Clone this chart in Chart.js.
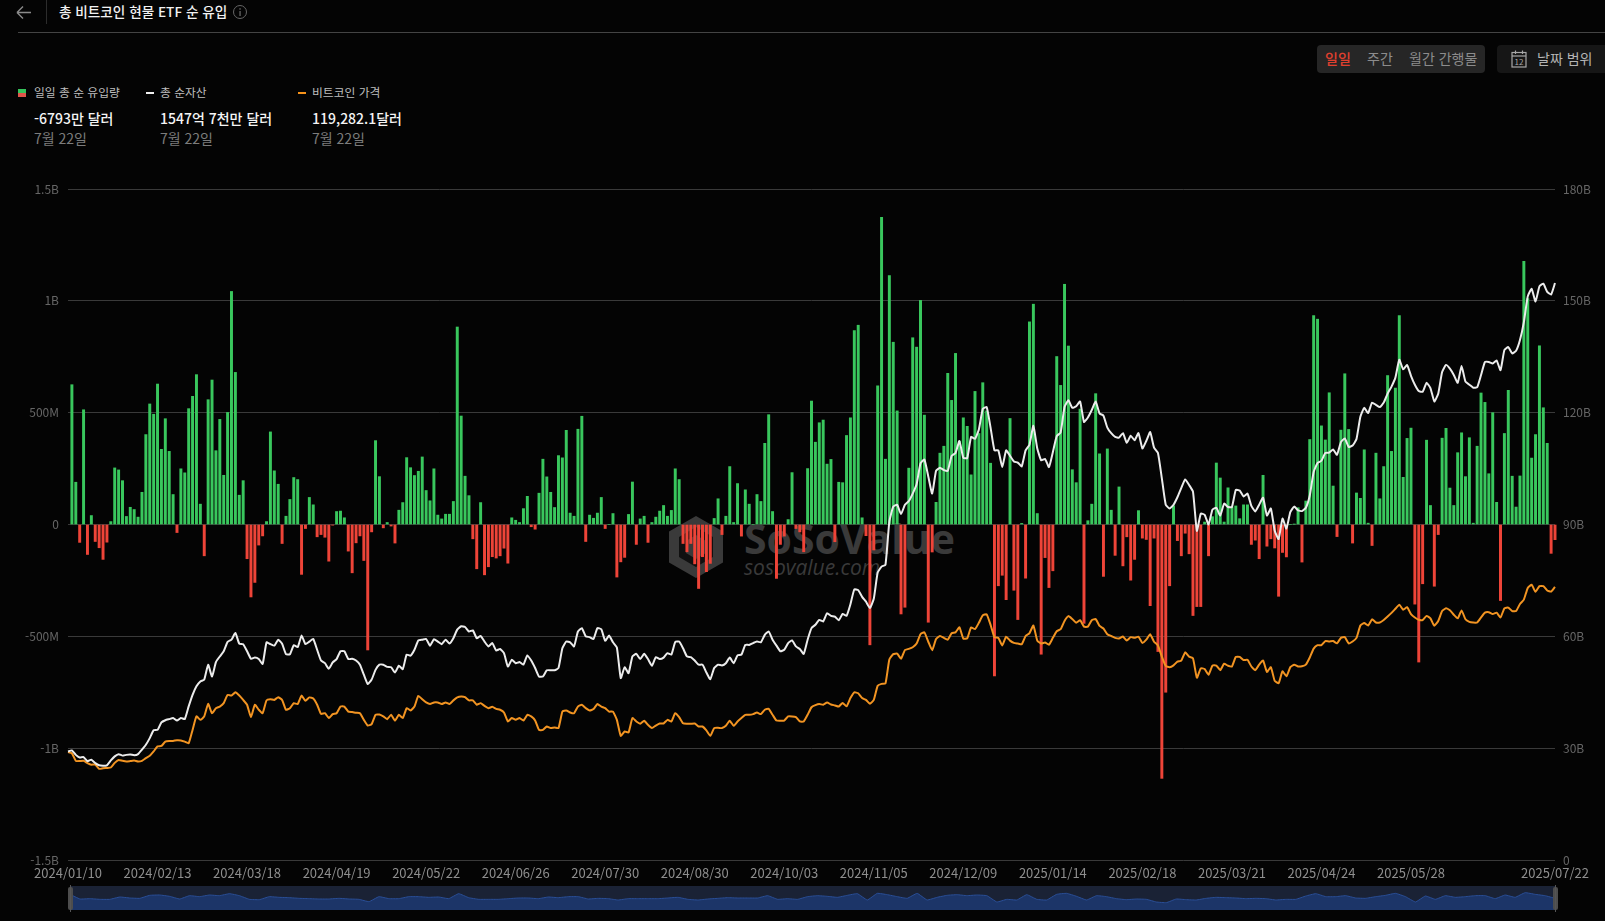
<!DOCTYPE html>
<html lang="ko">
<head>
<meta charset="utf-8">
<title>총 비트코인 현물 ETF 순 유입</title>
<script src="https://cdn.jsdelivr.net/npm/chart.js@4"></script>
<style>
  html,body{margin:0;padding:0;width:1605px;height:921px;overflow:hidden;background:#040404;font-family:"Noto Sans CJK KR","Noto Sans",sans-serif;}
  .t{position:absolute;white-space:nowrap;line-height:1;}
  #main{position:absolute;left:0;top:0;width:1605px;height:921px;}
  #wrapPrev{position:absolute;left:70px;top:886px;width:1485px;height:24px;background:#1a2235;}
  .handle{position:absolute;top:887px;width:5px;height:23px;background:#4d4d4d;border-radius:2px;}
  .handle:before{content:"";position:absolute;left:2px;top:-2px;width:1px;height:27px;background:#555;}
  .wm{position:absolute;color:#3a3a3a;white-space:nowrap;line-height:1;}
</style>
</head>
<body>
<svg style="position:absolute;left:0;top:0" width="60" height="32">
  <path d="M17 12.5H31M17 12.5L23 6.5M17 12.5L23 18.5" stroke="#8a8a8a" stroke-width="1.4" fill="none"/>
  <line x1="46.5" y1="0" x2="46.5" y2="24" stroke="#2c2c2c"/>
</svg>
<div class="t" style="left:59px;top:5px;font-size:13.6px;font-weight:500;color:#f2f2f2">총 비트코인 현물 ETF 순 유입</div>
<svg style="position:absolute;left:232px;top:4px" width="16" height="16">
  <circle cx="8" cy="8" r="6.5" stroke="#666" fill="none"/><rect x="7.4" y="7" width="1.3" height="5" fill="#666"/><rect x="7.4" y="4.2" width="1.3" height="1.5" fill="#666"/>
</svg>
<div style="position:absolute;left:18px;top:32px;width:1587px;height:1px;background:#444"></div>

<div style="position:absolute;left:18px;top:89px;width:8px;height:4px;background:#35c45c"></div>
<div style="position:absolute;left:18px;top:93px;width:8px;height:4px;background:#e0564a"></div>
<div class="t" style="left:34px;top:86px;font-size:11.8px;color:#bdbdbd">일일 총 순 유입량</div>
<div class="t" style="left:34px;top:111px;font-size:14px;font-weight:500;color:#f5f5f5">-6793만 달러</div>
<div class="t" style="left:34px;top:131px;font-size:14px;color:#7c7c7c">7월 22일</div>

<div style="position:absolute;left:146px;top:92px;width:8px;height:2px;background:#f0f0f0"></div>
<div class="t" style="left:160px;top:86px;font-size:11.8px;color:#bdbdbd">총 순자산</div>
<div class="t" style="left:160px;top:111px;font-size:14px;font-weight:500;color:#f5f5f5">1547억 7천만 달러</div>
<div class="t" style="left:160px;top:131px;font-size:14px;color:#7c7c7c">7월 22일</div>

<div style="position:absolute;left:298px;top:92px;width:8px;height:2px;background:#f7931a"></div>
<div class="t" style="left:312px;top:86px;font-size:11.8px;color:#bdbdbd">비트코인 가격</div>
<div class="t" style="left:312px;top:111px;font-size:14px;font-weight:500;color:#f5f5f5">119,282.1달러</div>
<div class="t" style="left:312px;top:131px;font-size:14px;color:#7c7c7c">7월 22일</div>

<div style="position:absolute;left:1317px;top:45px;width:168px;height:28px;background:#262626;border-radius:4px"></div>
<div class="t" style="left:1325px;top:51px;font-size:14px;font-weight:500;color:#e0402f">일일</div>
<div class="t" style="left:1367px;top:51px;font-size:14px;color:#8c8c8c">주간</div>
<div class="t" style="left:1409px;top:51px;font-size:14px;color:#8c8c8c">월간 간행물</div>
<div style="position:absolute;left:1497px;top:45px;width:108px;height:28px;background:#161616;border-radius:4px 0 0 4px"></div>
<svg style="position:absolute;left:1510px;top:49px" width="18" height="20">
  <rect x="2" y="3.5" width="14" height="14.5" fill="none" stroke="#a8a8a8" stroke-width="1.2"/>
  <line x1="2" y1="7" x2="16" y2="7" stroke="#a8a8a8" stroke-width="1.2"/>
  <line x1="5.5" y1="1.5" x2="5.5" y2="5" stroke="#a8a8a8" stroke-width="1.2"/>
  <line x1="12.5" y1="1.5" x2="12.5" y2="5" stroke="#a8a8a8" stroke-width="1.2"/>
  <text x="9" y="16" font-size="8" text-anchor="middle" fill="#a8a8a8">12</text>
</svg>
<div class="t" style="left:1537px;top:51px;font-size:14px;color:#b4b4b4">날짜 범위</div>

<svg style="position:absolute;left:668px;top:515px" width="56" height="64" viewBox="0 0 56 64">
  <path d="M28 1L55 16.500V47.500L28 63L1 47.500V16.500Z" fill="#3a3a3a"/>
  <path d="M28 12L45 22V42L28 52L11 42V22Z" fill="#101010"/>
  <path d="M18 26L28 20L38 26V38L28 44L18 38Z" fill="#3a3a3a"/>
</svg>
<div class="wm" style="left:744px;top:518px;font-size:41px;font-weight:700;font-family:'Open Sans'">SoSoValue</div>
<div class="wm" style="left:744px;top:557px;font-size:21px;font-style:italic;font-family:'Open Sans'">sosovalue.com</div>

<div id="main"><canvas id="c" width="1605" height="921"></canvas></div>
<div id="wrapPrev"><canvas id="p" width="1485" height="24"></canvas></div>
<div class="handle" style="left:68px"></div>
<div class="handle" style="left:1553px"></div>

<script>
const categories = [
"2024/01/10","2024/01/11","2024/01/12","2024/01/16","2024/01/17","2024/01/18","2024/01/19","2024/01/22","2024/01/23","2024/01/24","2024/01/25","2024/01/26","2024/01/29","2024/01/30","2024/01/31",
"2024/02/01","2024/02/02","2024/02/05","2024/02/06","2024/02/07","2024/02/08","2024/02/09","2024/02/12","2024/02/13","2024/02/14","2024/02/15","2024/02/16","2024/02/20","2024/02/21","2024/02/22","2024/02/23","2024/02/26","2024/02/27","2024/02/28","2024/02/29",
"2024/03/01","2024/03/04","2024/03/05","2024/03/06","2024/03/07","2024/03/08","2024/03/11","2024/03/12","2024/03/13","2024/03/14","2024/03/15","2024/03/18","2024/03/19","2024/03/20","2024/03/21","2024/03/22","2024/03/25","2024/03/26","2024/03/27","2024/03/28",
"2024/04/01","2024/04/02","2024/04/03","2024/04/04","2024/04/05","2024/04/08","2024/04/09","2024/04/10","2024/04/11","2024/04/12","2024/04/15","2024/04/16","2024/04/17","2024/04/18","2024/04/19","2024/04/22","2024/04/23","2024/04/24","2024/04/25","2024/04/26","2024/04/29","2024/04/30",
"2024/05/01","2024/05/02","2024/05/03","2024/05/06","2024/05/07","2024/05/08","2024/05/09","2024/05/10","2024/05/13","2024/05/14","2024/05/15","2024/05/16","2024/05/17","2024/05/20","2024/05/21","2024/05/22","2024/05/23","2024/05/24","2024/05/28","2024/05/29","2024/05/30","2024/05/31",
"2024/06/03","2024/06/04","2024/06/05","2024/06/06","2024/06/07","2024/06/10","2024/06/11","2024/06/12","2024/06/13","2024/06/14","2024/06/17","2024/06/18","2024/06/20","2024/06/21","2024/06/24","2024/06/25","2024/06/26","2024/06/27","2024/06/28",
"2024/07/01","2024/07/02","2024/07/03","2024/07/05","2024/07/08","2024/07/09","2024/07/10","2024/07/11","2024/07/12","2024/07/15","2024/07/16","2024/07/17","2024/07/18","2024/07/19","2024/07/22","2024/07/23","2024/07/24","2024/07/25","2024/07/26","2024/07/29","2024/07/30","2024/07/31",
"2024/08/01","2024/08/02","2024/08/05","2024/08/06","2024/08/07","2024/08/08","2024/08/09","2024/08/12","2024/08/13","2024/08/14","2024/08/15","2024/08/16","2024/08/19","2024/08/20","2024/08/21","2024/08/22","2024/08/23","2024/08/26","2024/08/27","2024/08/28","2024/08/29","2024/08/30",
"2024/09/03","2024/09/04","2024/09/05","2024/09/06","2024/09/09","2024/09/10","2024/09/11","2024/09/12","2024/09/13","2024/09/16","2024/09/17","2024/09/18","2024/09/19","2024/09/20","2024/09/23","2024/09/24","2024/09/25","2024/09/26","2024/09/27","2024/09/30",
"2024/10/01","2024/10/02","2024/10/03","2024/10/04","2024/10/07","2024/10/08","2024/10/09","2024/10/10","2024/10/11","2024/10/14","2024/10/15","2024/10/16","2024/10/17","2024/10/18","2024/10/21","2024/10/22","2024/10/23","2024/10/24","2024/10/25","2024/10/28","2024/10/29","2024/10/30","2024/10/31",
"2024/11/01","2024/11/04","2024/11/05","2024/11/06","2024/11/07","2024/11/08","2024/11/11","2024/11/12","2024/11/13","2024/11/14","2024/11/15","2024/11/18","2024/11/19","2024/11/20","2024/11/21","2024/11/22","2024/11/25","2024/11/26","2024/11/27","2024/11/29",
"2024/12/02","2024/12/03","2024/12/04","2024/12/05","2024/12/06","2024/12/09","2024/12/10","2024/12/11","2024/12/12","2024/12/13","2024/12/16","2024/12/17","2024/12/18","2024/12/19","2024/12/20","2024/12/23","2024/12/24","2024/12/26","2024/12/27","2024/12/30","2024/12/31",
"2025/01/02","2025/01/03","2025/01/06","2025/01/07","2025/01/08","2025/01/10","2025/01/13","2025/01/14","2025/01/15","2025/01/16","2025/01/17","2025/01/21","2025/01/22","2025/01/23","2025/01/24","2025/01/27","2025/01/28","2025/01/29","2025/01/30","2025/01/31",
"2025/02/03","2025/02/04","2025/02/05","2025/02/06","2025/02/07","2025/02/10","2025/02/11","2025/02/12","2025/02/13","2025/02/14","2025/02/18","2025/02/19","2025/02/20","2025/02/21","2025/02/24","2025/02/25","2025/02/26","2025/02/27","2025/02/28",
"2025/03/03","2025/03/04","2025/03/05","2025/03/06","2025/03/07","2025/03/10","2025/03/11","2025/03/12","2025/03/13","2025/03/14","2025/03/17","2025/03/18","2025/03/19","2025/03/20","2025/03/21","2025/03/24","2025/03/25","2025/03/26","2025/03/27","2025/03/28","2025/03/31",
"2025/04/01","2025/04/02","2025/04/03","2025/04/04","2025/04/07","2025/04/08","2025/04/09","2025/04/10","2025/04/11","2025/04/14","2025/04/15","2025/04/16","2025/04/17","2025/04/21","2025/04/22","2025/04/23","2025/04/24","2025/04/25","2025/04/28","2025/04/29","2025/04/30",
"2025/05/01","2025/05/02","2025/05/05","2025/05/06","2025/05/07","2025/05/08","2025/05/09","2025/05/12","2025/05/13","2025/05/14","2025/05/15","2025/05/16","2025/05/19","2025/05/20","2025/05/21","2025/05/22","2025/05/23","2025/05/27","2025/05/28","2025/05/29","2025/05/30",
"2025/06/02","2025/06/03","2025/06/04","2025/06/05","2025/06/06","2025/06/09","2025/06/10","2025/06/11","2025/06/12","2025/06/13","2025/06/16","2025/06/17","2025/06/18","2025/06/20","2025/06/23","2025/06/24","2025/06/25","2025/06/26","2025/06/27","2025/06/30",
"2025/07/01","2025/07/02","2025/07/03","2025/07/07","2025/07/08","2025/07/09","2025/07/10","2025/07/11","2025/07/14","2025/07/15","2025/07/16","2025/07/17","2025/07/18","2025/07/21","2025/07/22"
];
const tickDates = ["2024/01/10","2024/02/13","2024/03/18","2024/04/19","2024/05/22","2024/06/26","2024/07/30","2024/08/30","2024/10/03","2024/11/05","2024/12/09","2025/01/14","2025/02/18","2025/03/21","2025/04/24","2025/05/28","2025/07/22"];

// daily net inflow, million USD
const netInflow = [
null,625,189,-80,513,-134,40,-76,-104,-156,
-79,13,253,244,196,36,77,67,33,144,
402,539,493,628,336,473,327,134,-36,249,
231,518,573,670,91,-140,558,646,330,470,
220,501,1042,680,131,196,-153,-324,-259,-92,
-51,13,414,240,180,-85,37,112,210,201,
-223,-18,121,88,-55,-45,-57,-164,-3,58,
60,30,-119,-216,-82,-51,-161,-561,-33,375,
214,-15,9,-7,-83,64,98,299,254,219,
238,302,152,106,249,42,25,46,46,103,
883,485,216,129,-64,-198,98,-225,-189,-144,
-150,-140,-106,-173,30,19,9,71,126,-10,
-21,140,292,213,144,76,308,298,421,51,
37,426,484,-76,42,28,51,121,-18,0,
49,-235,-167,-147,45,190,-89,25,37,-80,
9,33,60,85,37,63,249,201,-85,-122,
-85,-176,-286,-144,-211,-174,27,115,-45,37,
259,9,183,-52,155,91,0,134,103,363,
491,58,-241,-89,-52,22,232,-18,-33,-122,
250,552,368,455,467,270,291,-77,189,187,
398,477,867,891,30,-50,-538,-114,620,1373,
292,1113,815,508,-400,-370,252,835,793,1002,
489,-437,-123,99,319,350,676,555,765,373,
477,439,222,595,407,634,508,274,-677,-274,
-227,-336,474,-294,-425,5,-240,906,985,49,
-580,-148,-282,-207,751,622,1074,798,245,187,
516,-442,17,91,585,316,-232,338,64,-138,
168,-185,-55,-249,-156,62,-61,-67,-363,-61,
-568,-1135,-750,-274,84,-72,-140,-39,-131,-407,
-367,-367,11,-140,35,275,208,11,164,78,
83,26,88,88,-89,-70,-153,220,-97,-64,
-105,-321,-125,-145,0,1,75,-168,105,380,
934,918,441,378,589,172,-54,422,674,425,
-83,141,117,334,6,-94,319,115,259,666,
327,610,934,211,385,431,-356,-615,-265,377,
85,-276,-45,386,430,163,85,321,410,214,
388,6,350,588,546,227,500,99,-340,407,
600,216,78,217,1177,1010,297,402,799,522,
363,-129,-67.93
];

// total net assets, billion USD
const netAssets = [
29.1,29.4,28.2,27.5,27.6,26.5,26.9,26.0,25.4,25.3,
25.4,26.7,27.8,28.4,28.0,28.2,28.3,28.1,28.4,29.6,
30.9,32.7,34.8,34.9,36.9,37.5,37.8,38.1,37.4,38.1,
37.8,41.2,44.3,46.6,47.9,48.4,52.4,49.2,53.1,54.6,
56.0,58.5,59.1,60.9,58.0,57.9,56.0,54.0,54.3,53.9,
52.6,58.4,57.9,57.5,59.1,58.0,55.2,55.2,57.6,57.1,
60.2,57.9,58.6,59.3,56.4,53.5,52.8,51.3,53.0,53.9,
56.0,56.0,53.9,54.0,53.5,52.4,49.7,47.2,48.4,51.0,
52.4,52.4,51.8,51.7,50.3,52.1,51.2,55.1,54.8,56.4,
58.9,59.1,59.3,57.5,59.2,58.6,57.9,59.1,58.1,59.5,
61.8,62.7,62.5,61.3,61.6,59.5,60.1,58.6,57.3,58.2,
56.2,56.6,55.5,51.9,53.7,52.8,53.1,52.4,54.9,53.5,
51.5,49.2,49.2,50.9,50.9,50.9,51.5,56.8,58.6,58.4,
57.3,61.3,62.2,60.0,59.8,59.3,62.2,61.9,58.8,60.2,
58.4,57.0,48.8,51.7,50.1,54.6,55.3,53.9,55.3,53.9,
52.1,54.4,53.9,54.3,55.5,55.1,58.5,58.6,56.8,54.6,
54.4,53.5,52.4,52.4,50.3,48.5,51.5,52.4,52.2,52.8,
54.3,52.8,54.9,55.1,57.7,57.7,58.2,58.6,58.4,60.4,
61.3,59.1,57.5,56.0,56.4,58.2,58.9,57.3,56.6,55.3,
59.1,62.2,63.1,64.4,64.0,66.2,65.5,65.3,64.3,66.0,
65.5,68.6,72.6,72.4,70.6,69.3,67.6,70.1,77.1,78.7,
79.2,90.8,94.8,95.3,92.8,95.3,96.3,98.3,100.8,106.4,
107.4,102.9,98.3,104.4,105.2,104.6,104.4,108.4,109.2,112.4,
107.9,107.8,113.5,113.0,115.5,121.0,121.5,116.0,109.9,109.9,
105.4,109.9,108.4,106.9,106.6,105.6,109.9,111.4,116.5,110.4,
107.2,107.6,105.4,109.4,113.7,114.7,121.5,123.3,121.3,121.7,
123.0,117.5,118.7,120.7,123.0,119.8,119.2,116.0,114.5,113.5,
113.3,114.5,111.9,113.8,112.6,114.5,110.4,112.4,114.8,110.6,
109.2,102.4,95.3,94.3,95.3,97.3,99.8,102.1,100.6,98.8,
88.3,92.9,92.6,90.0,94.0,94.5,92.4,95.6,94.7,94.7,
99.3,99.1,97.5,98.3,95.0,93.5,95.3,97.2,92.4,94.3,
88.3,86.1,91.6,88.9,93.3,94.8,93.8,93.6,94.5,97.8,
104.1,106.5,107.1,109.2,109.3,110.1,108.7,112.1,113.1,110.8,
111.2,112.9,118.9,121.3,119.9,122.7,122.1,121.5,122.7,125.1,
127.0,129.4,134.2,131.6,132.8,129.9,127.5,125.8,125.6,128.0,
126.6,123.0,125.1,130.9,132.8,131.8,130.1,128.0,132.5,128.3,
127.5,126.7,126.8,130.1,133.6,133.6,133.2,134.0,131.4,136.8,
137.6,135.9,136.6,139.5,144.3,151.2,153.2,149.8,153.9,154.6,
152.4,151.7,154.77
];

// bitcoin price, thousand USD
const btcPrice = [
47.1,46.6,43.3,43.2,43.3,42.3,41.6,41.7,39.8,40.1,
40.2,40.4,42.4,43.7,43.3,43.0,43.2,43.4,43.0,43.3,
44.5,45.5,47.4,49.6,49.8,51.7,52.0,52.0,52.3,52.2,
51.7,51.0,56.8,62.7,61.2,62.7,68.2,64.1,66.3,67.0,
68.5,72.1,71.8,73.2,71.8,69.9,67.8,62.4,67.8,65.6,
64.1,69.7,70.2,69.9,71.1,69.9,65.6,66.3,68.5,68.1,
71.8,69.5,71.0,70.5,67.8,63.8,64.1,62.0,63.7,64.1,
67.0,67.0,64.8,64.6,64.3,64.1,61.2,58.7,59.3,63.4,
63.5,62.7,61.5,63.4,60.9,63.4,62.0,66.3,65.3,67.0,
71.7,70.2,68.8,68.1,68.8,68.8,68.1,68.8,68.1,69.7,
71.0,71.4,71.1,69.7,69.7,67.8,68.5,67.3,66.3,66.9,
66.0,65.6,64.4,60.5,62.0,61.2,62.0,60.9,63.4,62.7,
60.9,56.8,56.8,58.3,57.6,57.9,57.6,64.8,65.3,64.4,
64.1,67.0,67.8,66.3,65.3,65.9,68.1,67.0,66.3,64.8,
64.8,61.2,54.2,56.1,55.7,62.0,60.5,59.5,60.8,59.0,
57.6,58.7,59.6,59.6,61.2,60.5,64.1,62.4,59.7,59.5,
59.5,59.6,58.3,58.3,56.6,54.2,57.6,57.7,57.6,58.6,
60.8,58.6,60.5,62.0,63.4,63.4,63.7,64.4,63.7,65.6,
66.0,63.4,60.9,60.8,60.9,62.7,62.7,62.4,60.5,60.5,
63.4,66.7,67.6,68.1,67.8,68.8,67.9,67.5,67.0,68.6,
67.1,70.7,73.2,72.8,70.7,69.9,68.2,69.9,76.1,76.9,
77.1,87.6,89.9,90.1,87.9,91.7,92.2,92.9,94.5,98.6,
99.4,95.3,91.6,96.5,97.8,97.0,96.2,99.0,99.4,101.6,
96.7,96.8,101.6,100.8,103.6,106.8,107.3,102.7,97.3,97.0,
93.7,97.5,95.8,94.8,94.5,94.2,97.8,99.1,102.4,95.8,
94.5,95.0,94.0,97.0,99.9,100.8,104.4,106.5,105.2,103.6,
104.7,101.9,101.9,104.7,105.2,102.2,101.1,98.6,97.8,97.0,
96.7,97.6,95.8,97.3,97.0,97.5,94.8,96.2,98.6,95.3,
93.7,88.8,84.7,84.2,85.0,86.6,87.1,90.7,88.8,88.1,
79.6,83.7,83.4,80.9,84.9,84.9,82.9,85.7,84.8,84.5,
88.7,88.7,87.3,87.4,84.5,82.9,85.3,87.1,82.1,84.2,
78.2,77.2,82.4,80.2,84.2,85.3,84.5,84.6,85.3,88.4,
92.3,93.8,93.8,95.6,95.4,95.6,94.6,97.0,97.3,94.6,
95.4,97.0,102.4,103.5,102.4,105.1,103.7,103.7,104.8,106.3,
107.9,109.7,111.5,109.3,110.4,107.4,105.9,104.9,104.8,106.6,
105.5,102.3,104.4,108.7,109.9,109.1,107.1,105.5,109.0,105.1,
104.0,103.7,103.7,105.9,108.0,108.2,107.4,108.0,105.9,109.9,
110.2,108.7,108.7,111.8,113.7,118.8,120.2,117.1,119.6,119.6,
117.7,117.2,119.28
];

// range slider preview curve (relative height inside the slider band)
const previewCurve = [
47,33,34,32,32,39,36,35,44,45,41,33,43,40,45,43,49,43,32,31,40,38,37,35,34,33,33,35,33,32,25,40,34,34,40,40,38,39,34,49,37,32,32,32,34,36,36,34,39,37,
40,40,33,35,34,30,34,34,34,34,36,38,32,30,33,35,37,36,36,36,43,32,34,32,40,43,41,38,44,49,30,50,46,40,35,50,30,38,44,46,43,45,43,24,32,30,46,32,30,47,
50,41,30,43,40,34,31,33,32,24,22,33,31,30,35,38,37,36,34,35,34,30,32,32,42,49,40,40,43,36,35,40,44,50,40,24,42,32,43,38,40,43,43,34,45,38,52,47,43,35
];

const tickFont = {family:'"Noto Sans CJK KR","Noto Sans",sans-serif', size:12};
new Chart(document.getElementById('c'), {
  data: {
    labels: categories,
    datasets: [
      {type:'line', label:'총 순자산', data:netAssets, yAxisID:'yAssets', borderColor:'#ececec', borderWidth:2, pointRadius:0, tension:0.15, order:1, clip:false},
      {type:'line', label:'비트코인 가격', data:btcPrice, yAxisID:'yPrice', borderColor:'#f29422', borderWidth:2, pointRadius:0, tension:0.15, order:2, clip:false},
      {type:'bar', label:'일일 총 순 유입량', data:netInflow, yAxisID:'yFlow', barThickness:2.3,
        backgroundColor:ctx => ctx.raw < 0 ? '#ee4438' : '#39c75d', order:3, clip:false}
    ]
  },
  options: {
    responsive:false, animation:false, events:[],
    layout:{padding:{top:189,left:0,right:0,bottom:0}},
    plugins:{legend:{display:false}, tooltip:{enabled:false}},
    scales:{
      x:{
        type:'category', offset:false,
        grid:{display:false,drawTicks:false}, border:{display:false},
        afterFit(s){s.height=61;},
        ticks:{autoSkip:false,maxRotation:0,minRotation:0,padding:5,color:'#8e8e8e',font:{family:tickFont.family,size:13},
          callback(v){const l=this.getLabelForValue(v);return tickDates.includes(l)?l:null;}}
      },
      yFlow:{
        position:'left', min:-1500, max:1500,
        afterFit(s){s.width=68;},
        grid:{color:'#3a3a3a',lineWidth:1,drawTicks:false}, border:{display:false},
        ticks:{stepSize:500,padding:9,color:'#666',font:tickFont,
          callback(v){return v===0?'0':(Math.abs(v)>=1000?(v/1000)+'B':v+'M');}}
      },
      yAssets:{
        position:'right', min:0, max:180,
        afterFit(s){s.width=50;},
        grid:{display:false,drawTicks:false}, border:{display:false},
        ticks:{stepSize:30,padding:8,color:'#666',font:tickFont,
          callback(v){return v===0?'0':v+'B';}}
      },
      yPrice:{display:false,min:0,max:293}
    }
  }
});

new Chart(document.getElementById('p'), {
  type:'line',
  data:{labels:previewCurve.map((_,i)=>i),
    datasets:[{data:previewCurve,borderColor:'#2a4f98',borderWidth:1,backgroundColor:'#1c3568',fill:'origin',pointRadius:0,tension:0.1}]},
  options:{responsive:false,animation:false,events:[],layout:{padding:0},
    plugins:{legend:{display:false},tooltip:{enabled:false}},
    scales:{x:{display:false,offset:false},y:{display:false,min:0,max:72}}}
});
</script>
</body>
</html>
